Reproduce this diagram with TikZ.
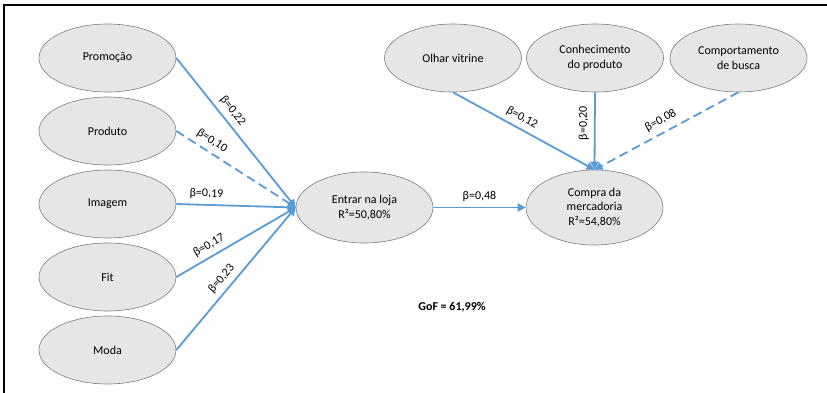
\documentclass[tikz,border=0pt]{standalone}
\usepackage{fontspec}
\setmainfont{Carlito}
\usetikzlibrary{shapes.geometric,arrows.meta}

\definecolor{linkblue}{RGB}{91,155,213}
\definecolor{latentfill}{RGB}{230,230,230}
\definecolor{latentdraw}{RGB}{125,125,125}

\begin{document}
\begin{tikzpicture}
  [x=1pt, y=-1pt,
   every node/.style={font=\fontsize{12}{14.5}\selectfont},
   latent/.style={ellipse, draw=latentdraw, fill=latentfill, line width=0.6pt,
                  minimum width=137pt, minimum height=68pt, align=center, inner sep=0pt},
   link/.style={draw=linkblue, line width=1.8pt, -{Triangle[length=8pt,width=8pt]}},
   weak/.style={link, dash pattern=on 9pt off 5pt},
   coef/.style={sloped, above, inner sep=5pt}]
  \useasboundingbox (0,0) rectangle (827,393);
  \draw[line width=2pt] (3.5,393) -- (3.5,5) -- (827,5);

  \node[latent] (promocao) at (107.5,58) {Promoção};
  \node[latent] (produto) at (107.5,131) {Produto};
  \node[latent] (imagem) at (107.5,204) {Imagem};
  \node[latent] (fit) at (107.5,277) {Fit};
  \node[latent] (moda) at (107.5,350) {Moda};
  \node[latent, minimum height=71pt] (entrar) at (364.5,207.5) {Entrar na loja\\R²=50,80\%};
  \node[latent, minimum height=75pt] (compra) at (594.5,207.5) {Compra da\\mercadoria\\R²=54,80\%};
  \node[latent] (olhar) at (453,58) {Olhar vitrine};
  \node[latent] (conhecimento) at (595,58) {Conhecimento\\do produto};
  \node[latent] (comportamento) at (738.5,58) {Comportamento\\de busca};
  \node[font=\fontsize{12}{14.5}\selectfont\bfseries] (gof) at (452,307) {GoF = 61,99\%};

  \draw[link] (promocao.east) -- node[coef, pos=.4] {β=0,22} (entrar.west);
  \draw[weak] (produto.east) -- node[coef, pos=.25] {β=0,10} (entrar.west);
  \draw[link] (imagem.east) -- node[coef, pos=.25] {β=0,19} (entrar.west);
  \draw[link] (fit.east) -- node[coef, pos=.32] {β=0,17} (entrar.west);
  \draw[link] (moda.east) -- node[coef, pos=.45] {β=0,23} (entrar.west);
  \draw[link] (entrar) -- node[coef] {β=0,48} (compra);
  \draw[link] (olhar.south) -- node[coef, pos=.45] {β=0,12} (compra.north);
  \draw[link] (conhecimento.south) -- node[pos=.4, rotate=90, anchor=south, inner sep=5pt] {β=0,20} (compra.north);
  \draw[weak] (comportamento.south) -- node[coef, pos=.5, inner sep=6pt] {β=0,08} (compra.north);
\end{tikzpicture}
\end{document}
